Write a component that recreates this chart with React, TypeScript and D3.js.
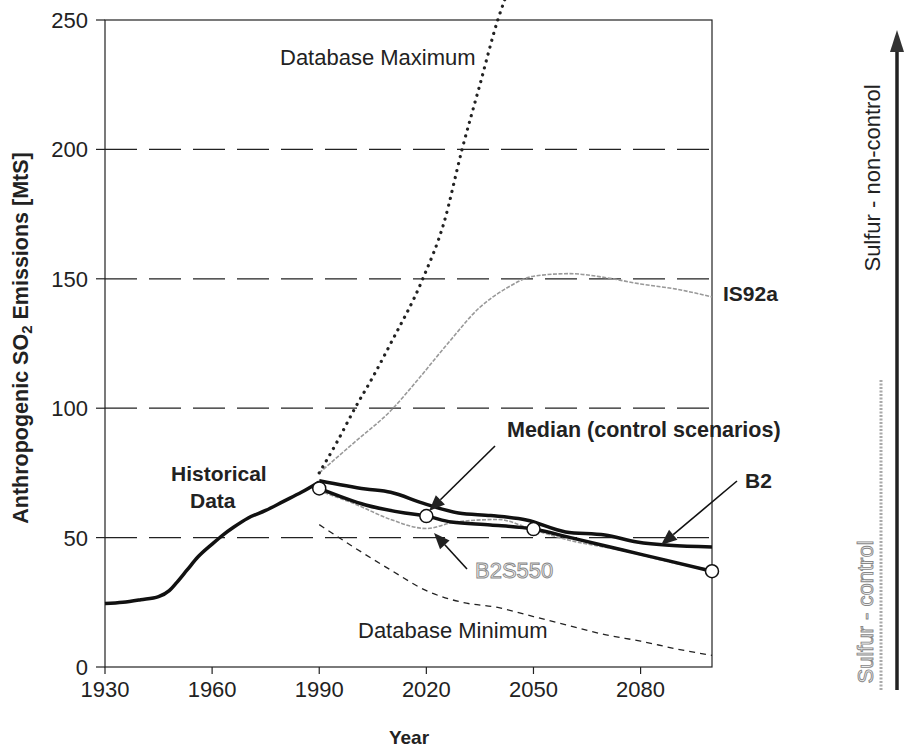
import React from "react";
import * as d3 from "d3";

const W = 905;
const H = 751;

type P = [number, number];

const historical: P[] = [
  [1930, 24.5], [1935, 25], [1940, 26], [1945, 27.2], [1948, 29.5], [1950, 32.5],
  [1953, 37.5], [1956, 42.5], [1960, 47.5], [1963, 51], [1966, 54], [1970, 57.5],
  [1975, 60.5], [1980, 64], [1985, 67.5], [1990, 71.5],
];
const dbMax: P[] = [
  [1990, 75], [1995, 87], [2000, 100], [2005, 112], [2010, 125], [2019, 150],
  [2025, 172], [2030, 200], [2035, 225], [2040, 250], [2042, 258],
];
const is92a: P[] = [
  [1990, 75], [2000, 87], [2010, 99], [2017, 110], [2026, 125], [2035, 139],
  [2042, 146], [2050, 151], [2060, 152], [2070, 150.5], [2080, 148], [2090, 146], [2100, 143],
];
const b2: P[] = [
  [1990, 72], [2003, 68.8], [2010, 67.5], [2019, 63.3], [2029, 59.5], [2038, 58.5],
  [2048, 56.8], [2059, 52.2], [2070, 51], [2079, 48.3], [2088, 47], [2100, 46.4],
];
const median: P[] = [
  [1990, 69], [2003, 62.6], [2014, 59.5], [2020, 58.3], [2027, 56], [2038, 54.9],
  [2050, 53.3], [2061, 49.8], [2075, 45.2], [2087, 41.3], [2100, 37],
];
const medianMarkers: P[] = [[1990, 69], [2020, 58.3], [2050, 53.3], [2100, 37]];
const b2s550: P[] = [
  [1990, 68], [2000, 63], [2010, 57], [2020, 53.5], [2028, 56], [2040, 57],
  [2050, 53], [2060, 49], [2075, 45], [2090, 40], [2100, 37.5],
];
const dbMin: P[] = [
  [1990, 55], [2000, 46], [2010, 37.5], [2020, 29.5], [2030, 25], [2040, 23],
  [2050, 19.5], [2060, 16], [2070, 12.5], [2080, 10], [2090, 7], [2100, 4.5],
];
const xTicks = [1930, 1960, 1990, 2020, 2050, 2080];
const yTicks = [0, 50, 100, 150, 200, 250];
const gridValues = [50, 100, 150, 200];

const x = d3.scaleLinear().domain([1930, 2100]).range([105, 712]);
const y = d3.scaleLinear().domain([0, 250]).range([667, 20]);

const line = d3
  .line<P>()
  .x((d) => x(d[0]))
  .y((d) => y(d[1]))
  .curve(d3.curveMonotoneX);

const FONT = "'Liberation Sans', Arial, sans-serif";

function Arrow({ x1, y1, x2, y2 }: { x1: number; y1: number; x2: number; y2: number }) {
  const ang = Math.atan2(y2 - y1, x2 - x1);
  const len = 16;
  const hw = 6.5;
  const bx = x2 - len * Math.cos(ang);
  const by = y2 - len * Math.sin(ang);
  const px = -Math.sin(ang) * hw;
  const py = Math.cos(ang) * hw;
  return (
    <g>
      <line x1={x1} y1={y1} x2={bx} y2={by} stroke="#111" strokeWidth={1.6} />
      <polygon points={`${x2},${y2} ${bx + px},${by + py} ${bx - px},${by - py}`} fill="#222" />
    </g>
  );
}

export default function App() {
  return (
    <svg
      width={W}
      height={H}
      style={{ position: "absolute", left: 0, top: 0, background: "#fff" }}
      fontFamily={FONT}
    >
      {/* grid lines */}
      {gridValues.map((v) => (
        <line
          key={v}
          x1={x(1930)}
          x2={x(2100)}
          y1={y(v)}
          y2={y(v)}
          stroke="#222"
          strokeWidth={1.3}
          strokeDasharray="32 12"
        />
      ))}
      {/* frame */}
      <rect x={x(1930)} y={y(250)} width={x(2100) - x(1930)} height={y(0) - y(250)} fill="none" stroke="#222" strokeWidth={1.2} />
      {/* y ticks */}
      {yTicks.map((v) => (
        <g key={v}>
          <line x1={x(1930) - 9} x2={x(1930)} y1={y(v)} y2={y(v)} stroke="#222" strokeWidth={1.2} />
          <text x={88} y={y(v)} dy="0.36em" textAnchor="end" fontSize={22} fill="#222">
            {v}
          </text>
        </g>
      ))}
      {/* x ticks */}
      {xTicks.map((v) => (
        <g key={v}>
          <line x1={x(v)} x2={x(v)} y1={y(0)} y2={y(0) + 7} stroke="#222" strokeWidth={1.2} />
          <text x={x(v)} y={697} textAnchor="middle" fontSize={22} fill="#222">
            {v}
          </text>
        </g>
      ))}
      <text x={409} y={744} textAnchor="middle" fontSize={19} fontWeight="bold" fill="#222">
        Year
      </text>
      <text
        transform={`translate(28,338) rotate(-90)`}
        textAnchor="middle"
        fontSize={21.5}
        fontWeight="bold"
        fill="#222"
      >
        Anthropogenic SO
        <tspan fontSize={15} dy={4}>2</tspan>
        <tspan dy={-4}> Emissions [MtS]</tspan>
      </text>

      {/* series */}
      <path d={line(dbMin) || ""} fill="none" stroke="#222" strokeWidth={1.3} strokeDasharray="6 5" />
      <path d={line(is92a) || ""} fill="none" stroke="#999" strokeWidth={1.6} strokeDasharray="4 1.5" />
      <path d={line(b2s550) || ""} fill="none" stroke="#999" strokeWidth={1.6} strokeDasharray="4 1.5" />
      <path d={line(dbMax) || ""} fill="none" stroke="#222" strokeWidth={3.2} strokeDasharray="0.1 7" strokeLinecap="round" />
      <path d={line(historical) || ""} fill="none" stroke="#111" strokeWidth={3.5} strokeLinejoin="round" />
      <path d={line(b2) || ""} fill="none" stroke="#111" strokeWidth={3.5} strokeLinejoin="round" />
      <path d={line(median) || ""} fill="none" stroke="#111" strokeWidth={3.5} strokeLinejoin="round" />
      {medianMarkers.map((d, i) => (
        <circle key={i} cx={x(d[0])} cy={y(d[1])} r={6.5} fill="#fff" stroke="#111" strokeWidth={1.5} />
      ))}

      {/* arrows */}
      <Arrow x1={495} y1={446} x2={429} y2={511} />
      <Arrow x1={737} y1={481} x2={661} y2={545} />
      <Arrow x1={467} y1={569} x2={434} y2={533} />

      {/* labels */}
      <text x={280} y={65} fontSize={22} fill="#222">Database Maximum</text>
      <text x={723} y={301} fontSize={21} fontWeight="bold" fill="#222">IS92a</text>
      <text x={507} y={437} fontSize={21.5} fontWeight="bold" fill="#222">Median (control scenarios)</text>
      <text x={171} y={481} fontSize={21} fontWeight="bold" fill="#222">Historical</text>
      <text x={190} y={508} fontSize={21} fontWeight="bold" fill="#222">Data</text>
      <text x={745} y={488} fontSize={21} fontWeight="bold" fill="#222">B2</text>
      <text x={475} y={578} fontSize={22} fill="#eee" stroke="#888" strokeWidth={0.9}>B2S550</text>
      <text x={358} y={638} fontSize={22} fill="#222">Database Minimum</text>

      {/* right side annotation */}
      <line x1={897} x2={897} y1={48} y2={690} stroke="#222" strokeWidth={3.5} />
      <polygon points="897,30 890,52 904,52" fill="#333" />
      <text
        transform="translate(880,178) rotate(-90)"
        textAnchor="middle"
        fontSize={22}
        fill="#222"
      >
        Sulfur - non-control
      </text>
      <text
        transform="translate(873,612) rotate(-90)"
        textAnchor="middle"
        fontSize={22}
        fill="#eee"
        stroke="#888"
        strokeWidth={0.9}
      >
        Sulfur - control
      </text>
      <line x1={881} x2={881} y1={380} y2={690} stroke="#aaa" strokeWidth={3} strokeDasharray="2 1.5" />
    </svg>
  );
}
